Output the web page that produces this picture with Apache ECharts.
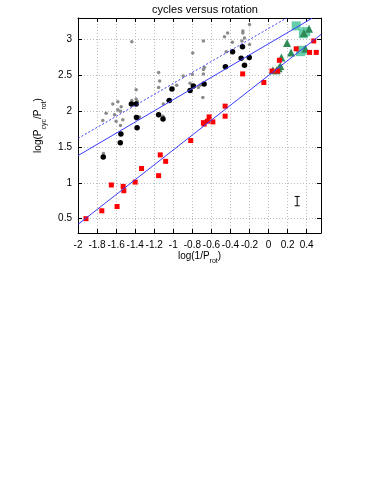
<!DOCTYPE html>
<html>
<head>
<meta charset="utf-8">
<script src="https://cdn.jsdelivr.net/npm/echarts@6/dist/echarts.min.js"></script>
<style>
    html, body { margin: 0; padding: 0; background: #fff; }
    #chart { width: 374px; height: 484px; }
</style>
</head>
<body>
<div id="chart"></div>
<script>
// values
let grayPts = [[-1.435,2.97],[-1.154,2.54],[-1.143,2.42],[-1.154,2.33],[-1.39,2.30],[-1.435,2.15],[-1.39,2.17],[-1.379,2.14],
    [-1.582,2.13],[-1.635,2.10],[-1.547,2.06],[-1.582,2.02],[-1.554,2.00],[-1.705,1.97],[-1.617,1.95],[-1.40,1.92],
    [-1.354,1.92],[-1.74,1.87],[-1.60,1.86],[-1.53,1.88],[-1.554,1.80],[-1.108,1.93],[-1.056,2.15],[-1.733,1.41],
    [-1.105,2.10],[-0.964,2.36],[-0.895,2.49],[-0.80,2.51],[-0.796,2.81],[-0.684,2.98],[-0.674,2.61],[-0.684,2.52],
    [-0.72,2.36],[-0.69,2.19],[-0.824,2.39],[-0.20,3.21],[-0.27,3.12],[-0.27,3.09],[-0.253,3.02],[-0.28,2.98],
    [-0.20,2.93],[-0.38,2.96],[-0.43,3.09],[-0.463,3.04],[-0.445,2.83],[-0.684,2.58],[-0.737,2.33]];
let blackPts = [[-1.55,1.68],[-1.44,2.10],[-1.39,2.10],[-1.385,1.91],[-1.38,1.77],[-1.154,1.95],[-1.108,1.89],
    [-1.042,2.15],[-1.014,2.31],[-0.824,2.29],[-0.79,2.35],[-0.677,2.38],[-0.453,2.62],[-0.378,2.83],[-0.288,2.74],
    [-0.274,2.90],[-0.253,2.64],[-0.203,2.75],[-1.556,1.56],[-1.735,1.36]];
let redPts = [[-1.916,0.50],[-1.75,0.61],[-1.59,0.67],[-1.65,0.97],[-1.526,0.95],[-1.519,0.89],[-1.40,1.01],
    [-1.333,1.20],[-1.154,1.10],[-1.137,1.39],[-1.08,1.30],[-0.817,1.59],[-0.684,1.84],[-0.677,1.82],[-0.642,1.86],
    [-0.624,1.92],[-0.585,1.85],[-0.456,1.93],[-0.456,2.07],[-0.272,2.52],[-0.05,2.40],[0.036,2.56],[0.095,2.56],
    [0.113,2.71],[0.29,2.87],[0.43,2.82],[0.474,2.98],[0.50,2.82]];
let greenPts = [[0.045,2.57],[0.085,2.57],[0.105,2.60],[0.123,2.63],[0.134,2.75],[0.194,2.95],[0.236,2.82],
    [0.386,2.87],[0.37,3.09],[0.425,3.15]];
let tealPts = [[0.29,3.19],[0.365,3.08],[0.39,3.11],[0.335,2.83],[0.35,2.85]];

// fitted lines (end points)
let fitUpper = [[-2, 1.38], [0.46, 3.3]];
let fitDotted = [[-2, 1.62], [0.19, 3.3]];
let fitLower = [[-2, 0.42], [0.55, 3.07]];

// typical error bar
let errX = [0.3], errLo = [0.68], errHi = [0.81];

let xTicks = [-2, -1.8, -1.6, -1.4, -1.2, -1, -0.8, -0.6, -0.4, -0.2, 0, 0.2, 0.4];
let yTicks = [0.5, 1, 1.5, 2, 2.5, 3];

// ----------------------------------------------------
let font = 'Liberation Sans';
let lineBlue = '#3a3aff';
let rich = {
    n: { fontFamily: font, fontSize: 10, color: '#000', verticalAlign: 'top', padding: [0, 0, 4, 0] },
    s: { fontFamily: font, fontSize: 7, color: '#000', verticalAlign: 'bottom' }
};

function axisX(pos) {
    return {
        type: 'value', position: pos, min: -2, max: 0.55,
        axisLine: { onZero: false, lineStyle: { color: '#000', width: 1 } },
        axisTick: { inside: true, length: 4, customValues: xTicks, lineStyle: { color: '#000' } },
        axisLabel: pos === 'bottom'
            ? { customValues: xTicks, margin: 7, color: '#000', fontFamily: font, fontSize: 10 }
            : { show: false },
        splitLine: pos === 'bottom'
            ? { show: true, lineStyle: { color: '#bdbdbd', type: [1, 2], width: 1 } }
            : { show: false }
    };
}
function axisY(pos) {
    return {
        type: 'value', position: pos, min: 0.3, max: 3.3,
        axisLine: { show: true, onZero: false, lineStyle: { color: '#000', width: 1 } },
        axisTick: { show: true, inside: true, length: 4, customValues: yTicks, lineStyle: { color: '#000' } },
        axisLabel: pos === 'left'
            ? { customValues: yTicks, margin: 6, color: '#000', fontFamily: font, fontSize: 10 }
            : { show: false },
        splitLine: pos === 'left'
            ? { show: true, lineStyle: { color: '#bdbdbd', type: [1, 2], width: 1 } }
            : { show: false }
    };
}

let xMain = axisX('bottom');
xMain.name = '{n|log(1/P}{s|rot}{n|)}';
xMain.nameLocation = 'middle';
xMain.nameGap = 18;
xMain.nameTextStyle = { rich: rich };

let yMain = axisY('left');
yMain.name = '{n|log(P}{s|cyc}{n|/P}{s|rot}{n|)}';
yMain.nameLocation = 'middle';
yMain.nameRotate = 90;
yMain.nameGap = 27;
yMain.nameTextStyle = { rich: rich };

function scatter(data, symbol, size, color, z) {
    return {
        type: 'scatter', data: data, symbol: symbol, symbolSize: size, z: z,
        itemStyle: { color: color, opacity: 1 }
    };
}
function fit(data, type) {
    return {
        type: 'line', data: data, showSymbol: false, symbol: 'none', z: 10,
        lineStyle: { color: lineBlue, width: 1, type: type }
    };
}

let chart = echarts.init(document.getElementById('chart'), null, { renderer: 'canvas' });
let option = {
    backgroundColor: '#fff',
    animation: false,
    title: {
        text: 'cycles versus rotation',
        left: 200, top: -1, textAlign: 'center',
        textStyle: { fontFamily: font, fontSize: 11, fontWeight: 'normal', color: '#000' }
    },
    grid: { left: 78, right: 53, top: 18, bottom: 251 },
    xAxis: [xMain, axisX('top')],
    yAxis: [yMain, axisY('right')],
    series: [
        scatter(grayPts, 'circle', 3.5, '#8a8a8a', 2),
        scatter(blackPts, 'circle', 5.5, '#000', 3),
        scatter(tealPts, 'rect', 9, '#66cdaa', 4),
        scatter(greenPts, 'triangle', 8, '#2e8b57', 5),
        scatter(redPts, 'rect', 5, '#ff0000', 6),
        fit(fitUpper, 'solid'),
        fit(fitDotted, [2, 2]),
        fit(fitLower, 'solid'),
        {
            type: 'custom', z: 11,
            data: errX.map((x, i) => [x, errLo[i], errHi[i]]),
            renderItem: function (params, api) {
                let lo = api.coord([api.value(0), api.value(1)]);
                let hi = api.coord([api.value(0), api.value(2)]);
                let st = { stroke: '#000', lineWidth: 1 };
                return {
                    type: 'group',
                    children: [
                        { type: 'line', shape: { x1: lo[0], y1: lo[1], x2: hi[0], y2: hi[1] }, style: st },
                        { type: 'line', shape: { x1: lo[0] - 2.5, y1: lo[1], x2: lo[0] + 2.5, y2: lo[1] }, style: st },
                        { type: 'line', shape: { x1: hi[0] - 2.5, y1: hi[1], x2: hi[0] + 2.5, y2: hi[1] }, style: st }
                    ]
                };
            }
        }
    ]
};

chart.setOption(option);
</script>
</body>
</html>
